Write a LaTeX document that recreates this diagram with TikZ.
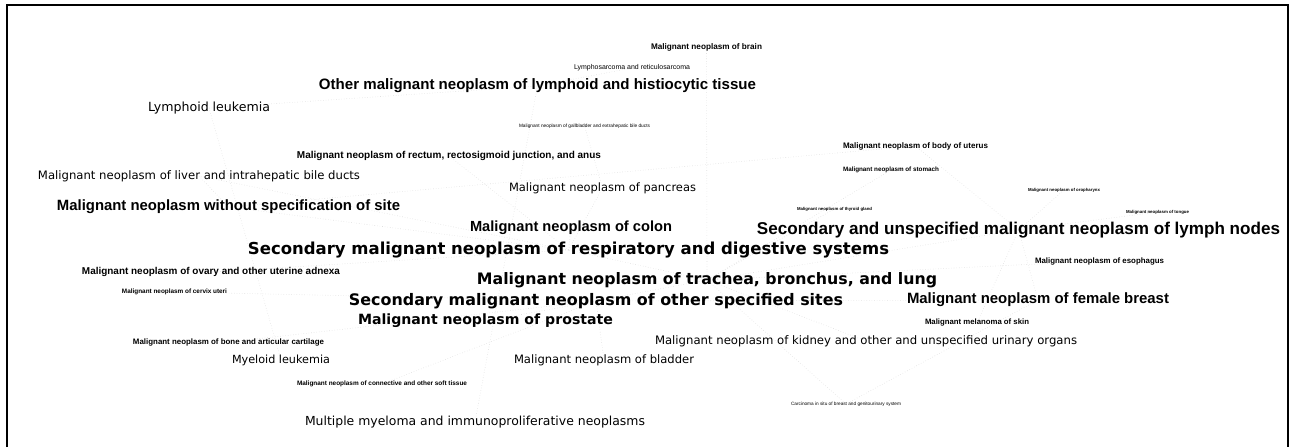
\documentclass[tikz,border=0pt]{standalone}
\usepackage{fontspec}
\usepackage{graphicx}
\usetikzlibrary{backgrounds}
\newfontfamily\fdv{DejaVu Sans}
\newfontfamily\far{Liberation Sans}
\newcommand\fitw[2]{\resizebox{#1pt}{!}{#2}}
\tikzset{
  lab/.style={inner sep=0pt, outer sep=0pt, anchor=center, text=black},
  edge/.style={draw=black!12, line width=0.6pt, dotted},
  frame/.style={draw=black, line width=2pt}
}
\begin{document}
\begin{tikzpicture}[x=1pt,y=-1pt]
\useasboundingbox (0,0) rectangle (1289,447);
\draw[frame] (6.5,447) -- (6.5,4.5) -- (1287.5,4.5) -- (1287.5,447);

\begin{scope}[yshift=-2pt]
\node[lab] (brain) at (706.5,45) {\fitw{111}{\far\bfseries Malignant neoplasm of brain}};
\node[lab] (lympho) at (632,66) {\fitw{116}{\far Lymphosarcoma and reticulosarcoma}};
\node[lab] (otherlym) at (537.5,84) {\fitw{437}{\far\bfseries Other malignant neoplasm of lymphoid and histiocytic tissue}};
\node[lab] (lymleuk) at (209,106) {\fitw{122}{\fdv Lymphoid leukemia}};
\node[lab] (gall) at (584.5,124) {\fitw{131}{\far Malignant neoplasm of gallbladder and extrahepatic bile ducts}};
\node[lab] (rectum) at (449,154) {\fitw{304}{\far\bfseries Malignant neoplasm of rectum, rectosigmoid junction, and anus}};
\node[lab] (uterus) at (915.5,144) {\fitw{145}{\far\bfseries Malignant neoplasm of body of uterus}};
\node[lab] (stomach) at (891,168) {\fitw{96}{\far\bfseries Malignant neoplasm of stomach}};
\node[lab] (liver) at (199,174) {\fitw{322}{\fdv Malignant neoplasm of liver and intrahepatic bile ducts}};
\node[lab] (pancreas) at (602.5,186) {\fitw{187}{\fdv Malignant neoplasm of pancreas}};
\node[lab] (oroph) at (1064,188) {\fitw{72}{\far\bfseries Malignant neoplasm of oropharynx}};
\node[lab] (thyroid) at (834.5,207) {\fitw{75}{\far\bfseries Malignant neoplasm of thyroid gland}};
\node[lab] (tongue) at (1157.5,210) {\fitw{63}{\far\bfseries Malignant neoplasm of tongue}};
\node[lab] (nospec) at (228.5,205) {\fitw{343}{\far\bfseries Malignant neoplasm without specification of site}};
\node[lab] (colon) at (571,226) {\fitw{202}{\far\bfseries Malignant neoplasm of colon}};
\node[lab] (lymphn) at (1018.5,228) {\fitw{523}{\far\bfseries Secondary and unspecified malignant neoplasm of lymph nodes}};
\node[lab] (secresp) at (568.5,248) {\fitw{641}{\fdv\bfseries Secondary malignant neoplasm of respiratory and digestive systems}};
\node[lab] (esoph) at (1099.5,259) {\fitw{129}{\far\bfseries Malignant neoplasm of esophagus}};
\node[lab] (ovary) at (211,270) {\fitw{258}{\far\bfseries Malignant neoplasm of ovary and other uterine adnexa}};
\node[lab] (lung) at (707,278) {\fitw{460}{\fdv\bfseries Malignant neoplasm of trachea, bronchus, and lung}};
\node[lab] (cervix) at (174.5,290) {\fitw{105}{\far\bfseries Malignant neoplasm of cervix uteri}};
\node[lab] (secother) at (596,299) {\fitw{494}{\fdv\bfseries Secondary malignant neoplasm of other specified sites}};
\node[lab] (breast) at (1038,298) {\fitw{262}{\far\bfseries Malignant neoplasm of female breast}};
\node[lab] (prostate) at (485.5,319) {\fitw{255}{\fdv\bfseries Malignant neoplasm of prostate}};
\node[lab] (melan) at (977,321) {\fitw{104}{\far\bfseries Malignant melanoma of skin}};
\node[lab] (bone) at (228.5,340) {\fitw{191}{\far\bfseries Malignant neoplasm of bone and articular cartilage}};
\node[lab] (kidney) at (866,339) {\fitw{422}{\fdv Malignant neoplasm of kidney and other and unspecified urinary organs}};
\node[lab] (myeloid) at (281,358) {\fitw{98}{\fdv Myeloid leukemia}};
\node[lab] (bladder) at (604,358) {\fitw{180}{\fdv Malignant neoplasm of bladder}};
\node[lab] (connect) at (382,382) {\fitw{170}{\far\bfseries Malignant neoplasm of connective and other soft tissue}};
\node[lab] (insitu) at (846,402) {\fitw{110}{\far Carcinoma in situ of breast and genitourinary system}};
\node[lab] (myeloma) at (475,420) {\fitw{340}{\fdv Multiple myeloma and immunoproliferative neoplasms}};
\end{scope}

\begin{pgfonlayer}{background}
\draw[edge] (lymleuk.center) -- (otherlym.center);
\draw[edge] (lymleuk.center) -- (myeloid.center);
\draw[edge] (otherlym.center) -- (lympho.center);
\draw[edge] (otherlym.center) -- (myeloma.center);
\draw[edge] (lung.center) -- (brain.center);
\draw[edge] (lung.center) -- (secresp.center);
\draw[edge] (lung.center) -- (secother.center);
\draw[edge] (lung.center) -- (lymphn.center);
\draw[edge] (lung.center) -- (esoph.center);
\draw[edge] (lung.center) -- (stomach.center);
\draw[edge] (lung.center) -- (thyroid.center);
\draw[edge] (lung.center) -- (kidney.center);
\draw[edge] (lung.center) -- (insitu.center);
\draw[edge] (secresp.center) -- (colon.center);
\draw[edge] (secresp.center) -- (rectum.center);
\draw[edge] (secresp.center) -- (liver.center);
\draw[edge] (secresp.center) -- (pancreas.center);
\draw[edge] (secresp.center) -- (nospec.center);
\draw[edge] (secresp.center) -- (ovary.center);
\draw[edge] (secother.center) -- (prostate.center);
\draw[edge] (secother.center) -- (bladder.center);
\draw[edge] (secother.center) -- (bone.center);
\draw[edge] (secother.center) -- (connect.center);
\draw[edge] (secother.center) -- (breast.center);
\draw[edge] (secother.center) -- (cervix.center);
\draw[edge] (lymphn.center) -- (uterus.center);
\draw[edge] (lymphn.center) -- (oroph.center);
\draw[edge] (lymphn.center) -- (tongue.center);
\draw[edge] (lymphn.center) -- (breast.center);
\draw[edge] (lymphn.center) -- (melan.center);
\draw[edge] (uterus.center) -- (nospec.center);
\draw[edge] (pancreas.center) -- (gall.center);
\draw[edge] (breast.center) -- (insitu.center);
\draw[edge] (liver.center) -- (nospec.center);
\end{pgfonlayer}
\end{tikzpicture}
\end{document}
